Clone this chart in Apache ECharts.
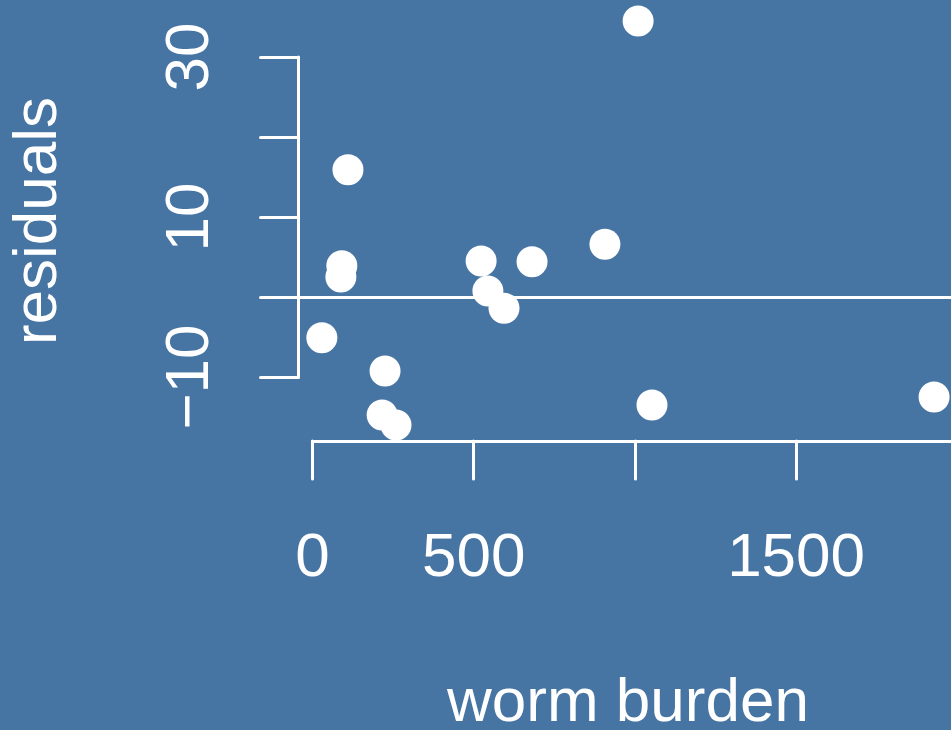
<!DOCTYPE html>
<html>
<head>
<meta charset="utf-8">
<script src="https://cdn.jsdelivr.net/npm/echarts@6/dist/echarts.min.js"></script>
<style>
html,body{margin:0;padding:0;background:#4674A3;}
#c{width:951px;height:730px;}
</style>
</head>
<body>
<div id="c"></div>
<script>
// ---- data ----
var wormBurden = [1010, 110, 91, 88, 29, 225, 216, 259, 523, 544, 594, 681, 907, 1053, 1928];
var residuals  = [34.5, 15.9, 3.9, 2.5, -5.1, -9.25, -14.75, -16, 4.5, 0.75, -1.4, 4.4, 6.6, -13.5, -12.5];
var xTicks = [0, 500, 1000, 1500, 2000];
var xTickLabels = ['0', '500', '', '1500', ''];
var yTicks = [-10, 0, 10, 20, 30];
var yTickLabels = ['\u221210', '', '10', '', '30'];
var xTitle = 'worm burden';
var yTitle = 'residuals';

// ---- layout ----
var BG = '#4674A3', FG = '#ffffff';
var FONT = '"Liberation Sans", Arial, Helvetica, sans-serif';
var FS = 62;
var x0px = 312.5, pxPerX = 161.2 / 500;
var y0px = 297, pxPerY = 8;
var dXmin = -160, dXmax = 2000, dYmin = -20, dYmax = 35;

function lbl(ticks, labels) {
  return function (v) {
    var i = ticks.indexOf(v);
    return i >= 0 ? labels[i] : '';
  };
}

var data = wormBurden.map(function (x, i) { return [x, residuals[i]]; });

var chart = echarts.init(document.getElementById('c'), null, {renderer: 'canvas'});
chart.setOption({
  backgroundColor: BG,
  animation: false,
  grid: [
    { // data region
      left: x0px + dXmin * pxPerX, width: (dXmax - dXmin) * pxPerX,
      top: y0px - dYmax * pxPerY, height: (dYmax - dYmin) * pxPerY,
      outerBoundsMode: 'none', containLabel: false
    },
    { // y axis
      left: 298.5, width: 10,
      top: y0px - yTicks[yTicks.length - 1] * pxPerY,
      height: (yTicks[yTicks.length - 1] - yTicks[0]) * pxPerY,
      outerBoundsMode: 'none', containLabel: false
    },
    { // x axis
      left: x0px, width: (xTicks[xTicks.length - 1] - xTicks[0]) * pxPerX,
      top: 400, height: 41,
      outerBoundsMode: 'none', containLabel: false
    }
  ],
  xAxis: [
    {gridIndex: 0, type: 'value', min: dXmin, max: dXmax, show: false},
    {gridIndex: 1, type: 'value', min: 0, max: 1, show: false},
    {
      gridIndex: 2, type: 'value', position: 'bottom',
      min: xTicks[0], max: xTicks[xTicks.length - 1], interval: 500,
      splitLine: {show: false},
      axisLine: {show: true, lineStyle: {color: FG, width: 3, cap: 'round'}},
      axisTick: {show: true, inside: false, length: 38, lineStyle: {color: FG, width: 3, cap: 'round'}},
      axisLabel: {
        show: true, margin: 87, color: FG, fontSize: FS, fontFamily: FONT,
        interval: 0, showMinLabel: true, showMaxLabel: true, hideOverlap: false,
        formatter: lbl(xTicks, xTickLabels)
      }
    }
  ],
  yAxis: [
    {gridIndex: 0, type: 'value', min: dYmin, max: dYmax, show: false},
    {
      gridIndex: 1, type: 'value', position: 'left',
      min: yTicks[0], max: yTicks[yTicks.length - 1], interval: 10,
      splitLine: {show: false},
      axisLine: {show: true, lineStyle: {color: FG, width: 3, cap: 'round'}},
      axisTick: {show: true, inside: false, length: 38, lineStyle: {color: FG, width: 3, cap: 'round'}},
      axisLabel: {
        show: true, margin: 77, rotate: 90, color: FG, fontSize: FS, fontFamily: FONT,
        interval: 0, showMinLabel: true, showMaxLabel: true, hideOverlap: false,
        formatter: lbl(yTicks, yTickLabels)
      }
    },
    {gridIndex: 2, type: 'value', min: 0, max: 1, show: false}
  ],
  series: [
    {
      type: 'scatter', xAxisIndex: 0, yAxisIndex: 0,
      data: data, symbol: 'circle', symbolSize: 31, clip: false,
      itemStyle: {color: FG, opacity: 1},
      emphasis: {disabled: true},
      markLine: {
        silent: true, symbol: ['none', 'none'], label: {show: false},
        lineStyle: {color: FG, width: 3, type: 'solid'},
        emphasis: {disabled: true},
        data: [{yAxis: 0}]
      },
      z: 3
    }
  ],
  graphic: [
    {
      type: 'text', x: 628, y: 704,
      style: {text: xTitle, fill: FG, font: FS + 'px ' + FONT, textAlign: 'center', textVerticalAlign: 'middle'}
    },
    {
      type: 'text', x: 39, y: 221, rotation: Math.PI / 2,
      style: {text: yTitle, fill: FG, font: FS + 'px ' + FONT, textAlign: 'center', textVerticalAlign: 'middle'}
    }
  ]
});
</script>
</body>
</html>
